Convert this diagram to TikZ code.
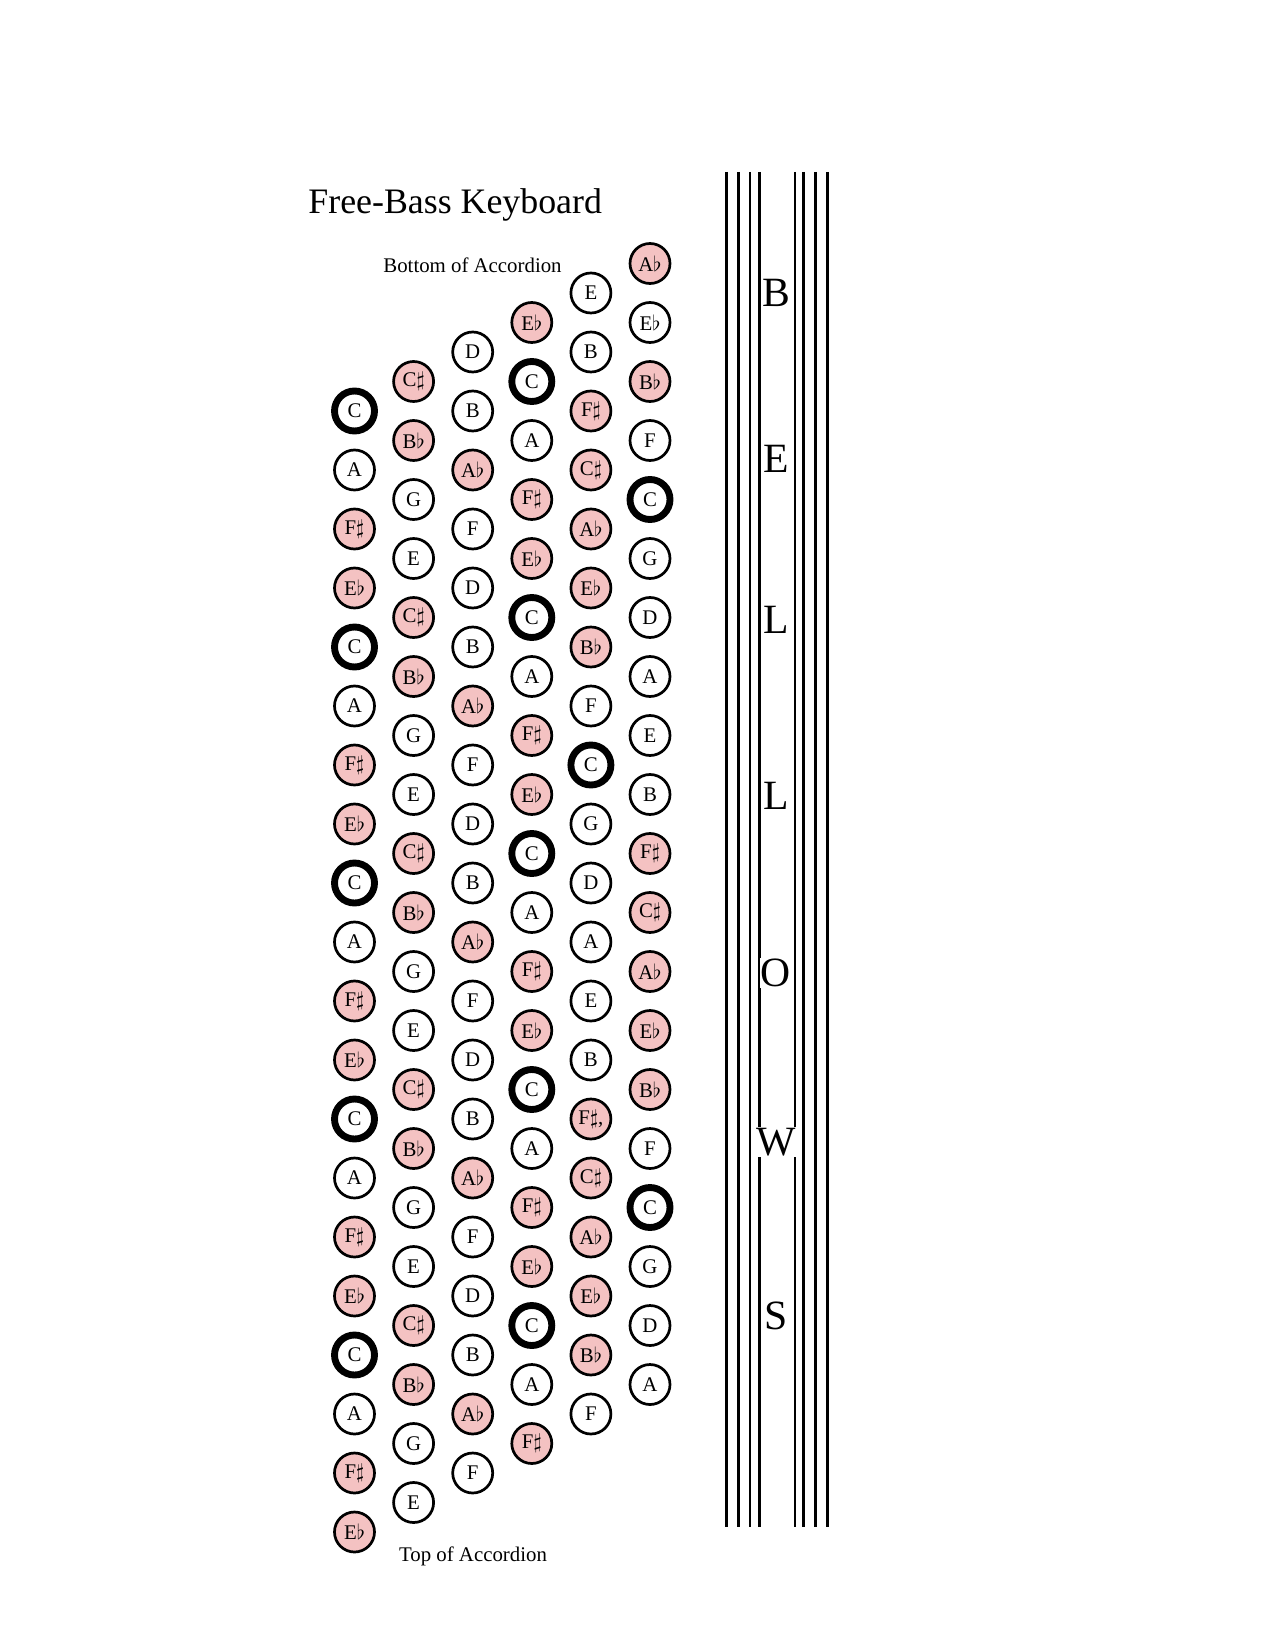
\documentclass[tikz,border=0pt]{standalone}
\usepackage{fontspec}
\setmainfont{Liberation Serif}
\usepackage{xcolor}
\usepackage{tikz}
\usetikzlibrary{positioning}
\definecolor{keypink}{RGB}{244,194,194}
\newcommand{\flt}{$\flat$}
\newcommand{\shp}{$\sharp$}
\tikzset{
  btn/.style={circle, draw, minimum size=19.2pt, inner sep=0pt, line width=1.3pt,
              font=\fontsize{10}{12}\selectfont},
  btnn/.style={btn, fill=white},
  btnp/.style={btn, fill=keypink},
  btnc/.style={btn, fill=white, line width=3.3pt},
  heading/.style={inner sep=0pt, font=\fontsize{17.2}{20}\selectfont},
  sidenote/.style={inner sep=0pt, font=\fontsize{10}{12}\selectfont},
  bellowsline/.style={line width=1.2pt},
  bellowsletter/.style={fill=white, inner sep=0.5pt, font=\fontsize{20}{24}\selectfont},
}

\begin{document}
\begin{tikzpicture}[x=0.48pt, y=-0.48pt]
  \fill[white] (0,0) rectangle (1275,1650);
  \path[use as bounding box] (0,0) rectangle (1275,1650);

  % titles
  \node[heading, anchor=base west] (title) at (308,213.3) {Free-Bass Keyboard};
  \node[sidenote, anchor=base] (bottom) at (472.5,272.7) {Bottom of Accordion};
  \node[sidenote, anchor=base] (top) at (473,1561.7) {Top of Accordion};

  % button columns, left to right
  \foreach \t/\s [count=\i] in {C/c,A/n,F\shp/p,E\flt/p,C/c,A/n,F\shp/p,E\flt/p,
      C/c,A/n,F\shp/p,E\flt/p,C/c,A/n,F\shp/p,E\flt/p,C/c,A/n,F\shp/p,E\flt/p}
    \node[btn\s] (k1-\i) at (354.5,{411+59*(\i-1)}) {\t};
  \foreach \t/\s [count=\i] in {C\shp/p,B\flt/p,G/n,E/n,C\shp/p,B\flt/p,G/n,E/n,
      C\shp/p,B\flt/p,G/n,E/n,C\shp/p,B\flt/p,G/n,E/n,C\shp/p,B\flt/p,G/n,E/n}
    \node[btn\s] (k2-\i) at (413.6,{381.5+59*(\i-1)}) {\t};
  \foreach \t/\s [count=\i] in {D/n,B/n,A\flt/p,F/n,D/n,B/n,A\flt/p,F/n,
      D/n,B/n,A\flt/p,F/n,D/n,B/n,A\flt/p,F/n,D/n,B/n,A\flt/p,F/n}
    \node[btn\s] (k3-\i) at (472.7,{352+59*(\i-1)}) {\t};
  \foreach \t/\s [count=\i] in {E\flt/p,C/c,A/n,F\shp/p,E\flt/p,C/c,A/n,F\shp/p,
      E\flt/p,C/c,A/n,F\shp/p,E\flt/p,C/c,A/n,F\shp/p,E\flt/p,C/c,A/n,F\shp/p}
    \node[btn\s] (k4-\i) at (531.8,{322.5+59*(\i-1)}) {\t};
  \foreach \t/\s [count=\i] in {E/n,B/n,F\shp/p,C\shp/p,A\flt/p,E\flt/p,B\flt/p,F/n,
      C/c,G/n,D/n,A/n,E/n,B/n,{F\shp,}/p,C\shp/p,A\flt/p,E\flt/p,B\flt/p,F/n}
    \node[btn\s] (k5-\i) at (590.9,{293+59*(\i-1)}) {\t};
  \foreach \t/\s [count=\i] in {A\flt/p,E\flt/n,B\flt/p,F/n,C/c,G/n,D/n,A/n,E/n,B/n,
      F\shp/p,C\shp/p,A\flt/p,E\flt/p,B\flt/p,F/n,C/c,G/n,D/n,A/n}
    \node[btn\s] (k6-\i) at (650,{263.5+59*(\i-1)}) {\t};

  % bellows
  \foreach \x in {726.7,738.3,750,759.3,795,803.3,815.7,827.3}
    \draw[bellowsline] (\x,172) -- (\x,1527);
  \node[bellowsletter] (b1) at (776,293.4) {B};
  \node[bellowsletter] (b2) at (776,458.7) {E};
  \node[bellowsletter] (b3) at (776,619.6) {L};
  \node[bellowsletter] (b4) at (776,796.3) {L};
  \node[bellowsletter] (b5) at (776,973) {O};
  \node[bellowsletter] (b6) at (776,1142) {W};
  \node[bellowsletter] (b7) at (776,1315.5) {S};
\end{tikzpicture}
\end{document}
